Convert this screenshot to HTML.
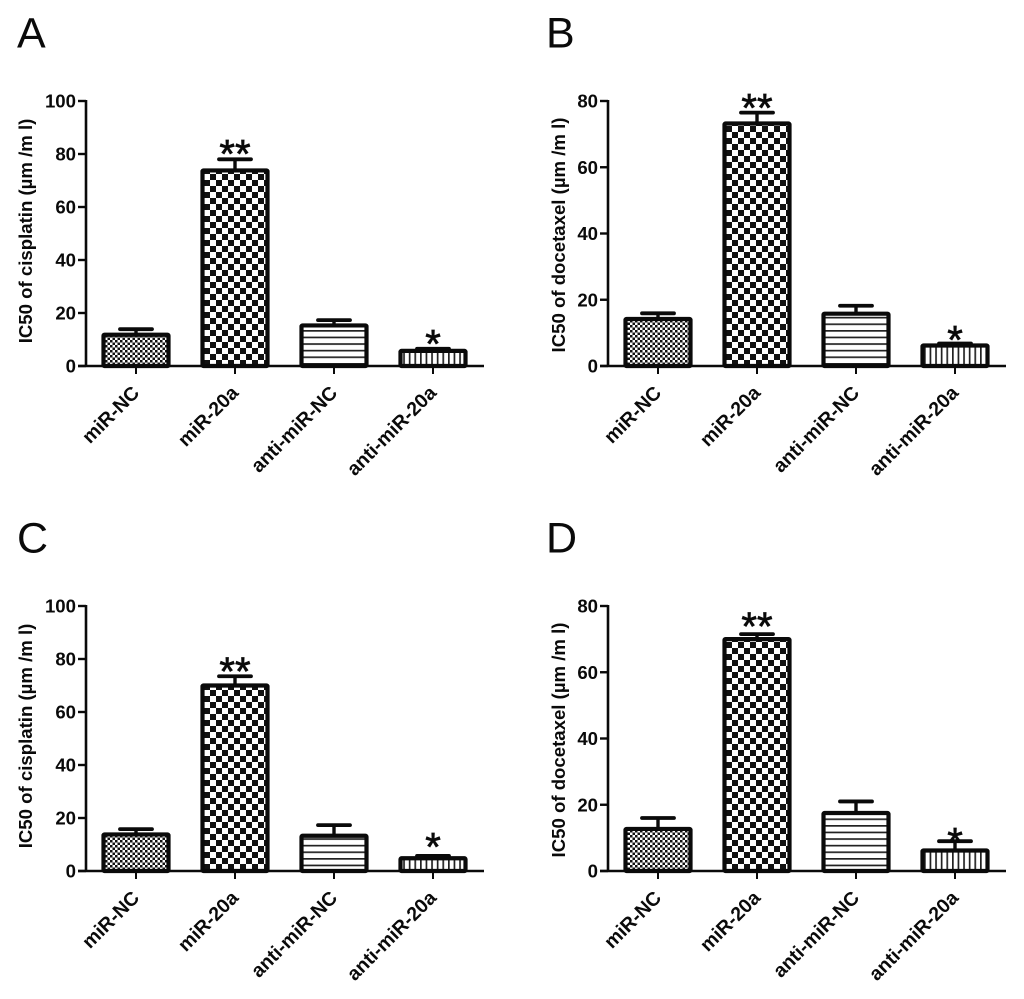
<!DOCTYPE html>
<html>
<head>
<meta charset="utf-8">
<style>
html,body{margin:0;padding:0;background:#fff;}
svg{display:block;filter:blur(0.35px);}
text{font-family:"Liberation Sans",sans-serif;fill:#0a0a0a;}
.tick{font-weight:bold;font-size:18.6px;}
.cat{font-weight:bold;font-size:19.5px;}
.ttl{font-weight:bold;font-size:18.6px;}
.letter{font-size:43px;}
.star{font-size:40px;stroke:#0a0a0a;stroke-width:0.7px;}
</style>
</head>
<body>
<svg id="chart" width="1024" height="999" viewBox="0 0 1024 999" xmlns="http://www.w3.org/2000/svg">
<defs>
<pattern id="p-small" width="5" height="5" patternUnits="userSpaceOnUse"><rect width="5" height="5" fill="#fff"/><rect width="2.5" height="2.5" fill="#111"/><rect x="2.5" y="2.5" width="2.5" height="2.5" fill="#111"/></pattern>
<pattern id="p-big" width="12" height="12" patternUnits="userSpaceOnUse"><rect width="12" height="12" fill="#fff"/><rect width="6" height="6" fill="#111"/><rect x="6" y="6" width="6" height="6" fill="#111"/></pattern>
<pattern id="p-h" width="6.6" height="6.6" patternUnits="userSpaceOnUse"><rect width="6.6" height="6.6" fill="#fff"/><rect width="6.6" height="1.7" fill="#222"/></pattern>
<pattern id="p-v" width="5.6" height="5.6" patternUnits="userSpaceOnUse"><rect width="5.6" height="5.6" fill="#fff"/><rect width="1.7" height="5.6" fill="#222"/></pattern>
</defs>
</svg>
<script>
var categories = ['miR-NC', 'miR-20a', 'anti-miR-NC', 'anti-miR-20a'];
var fills = ['p-small', 'p-big', 'p-h', 'p-v'];
var significance = ['', '**', '', '*'];

var valuesA = [11.8, 73.8, 15.3, 5.7];
var errorsA = [2.1, 4.2, 2, 0.8];
var starLevelsA = [0, 82.6, 0, 10.9];

var valuesB = [14.2, 73.2, 15.8, 6.2];
var errorsB = [1.7, 3.3, 2.4, 0.6];
var starLevelsB = [0, 80, 0, 10];

var valuesC = [13.8, 70, 13.3, 4.8];
var errorsC = [2, 3.5, 4, 0.9];
var starLevelsC = [0, 78, 0, 11.7];

var valuesD = [12.7, 70, 17.5, 6.2];
var errorsD = [3.3, 1.5, 3.5, 2.8];
var starLevelsD = [0, 76, 0, 10.8];

var ticksCis = [0, 20, 40, 60, 80, 100];
var ticksDoc = [0, 20, 40, 60, 80];

var titleCis = 'IC50 of cisplatin (\u00b5m /m l)';
var titleDoc = 'IC50 of docetaxel (\u00b5m /m l)';

var svg = document.getElementById('chart');
var NS = 'http://www.w3.org/2000/svg';

function make(tag, attrs, parent, text) {
  var el = document.createElementNS(NS, tag);
  for (var k in attrs) { el.setAttribute(k, attrs[k]); }
  if (text !== undefined) { el.textContent = text; }
  parent.appendChild(el);
  return el;
}

function panel(cfg) {
  var g = make('g', {}, svg);
  
  

  var yScale = function (v) { return cfg.y0 - (v / cfg.max) * (cfg.y0 - cfg.yTop); };
  var xScale = function (i) { return cfg.x0 + 50 + i * 99; };

  var letter = make('text', {x: cfg.letterX, y: cfg.y0 - 318.5, 'class': 'letter'}, g, cfg.letter);
  
  

  var title = make('text', {'class': 'ttl', 'text-anchor': 'middle', transform: 'translate(' + cfg.titleX + ',' + (cfg.y0 - cfg.titleUp) + ') rotate(-90)'}, g, cfg.title);
  
  

  cfg.values.forEach(function (v, i) {
    var cx = xScale(i);
    var top = yScale(v);
    var errTop = yScale(v + cfg.errors[i]);

    var stem = make('line', {x1: cx, x2: cx, y1: top, y2: errTop, stroke: '#0a0a0a', 'stroke-width': 3.4}, g);
    
    

    var cap = make('line', {x1: cx - 16, x2: cx + 16, y1: errTop, y2: errTop, stroke: '#0a0a0a', 'stroke-width': 3.8, 'stroke-linecap': 'round'}, g);
    
    

    var bar = make('rect', {x: cx - 32.5, y: top, width: 65, height: cfg.y0 - top, fill: 'url(#' + fills[i] + ')', stroke: '#0a0a0a', 'stroke-width': 4.2, rx: 1}, g);
    
    

    var tk = make('line', {x1: cx, x2: cx, y1: cfg.y0, y2: cfg.y0 + 8, stroke: '#0a0a0a', 'stroke-width': 2}, g);
    
    

    var lab = make('text', {'class': 'cat', 'text-anchor': 'end', transform: 'translate(' + (cx + 4.5) + ',' + (cfg.y0 + 28) + ') rotate(-45)'}, g, categories[i]);
    
    

    if (significance[i]) {
      var st = make('text', {'class': 'star', 'text-anchor': 'middle', x: cx, y: yScale(cfg.stars[i]) + 20.5}, g, significance[i]);
      
      
    }
  });

  var yAxis = make('line', {x1: cfg.x0, x2: cfg.x0, y1: cfg.yTop - 1, y2: cfg.y0 + 1, stroke: '#0a0a0a', 'stroke-width': 2.6}, g);
  
  

  var xAxis = make('line', {x1: cfg.x0 - 8, x2: cfg.x0 + 398, y1: cfg.y0, y2: cfg.y0, stroke: '#0a0a0a', 'stroke-width': 2.6}, g);
  
  

  cfg.ticks.forEach(function (t) {
    var y = yScale(t);
    var tl = make('line', {x1: cfg.x0 - 8, x2: cfg.x0, y1: y, y2: y, stroke: '#0a0a0a', 'stroke-width': 2.4}, g);
    
    

    var tt = make('text', {'class': 'tick', 'text-anchor': 'end', x: cfg.x0 - 10, y: y + 6.5}, g, String(t));
    
    
  });
}

panel({letter: 'A', letterX: 17, titleX: 32, titleUp: 135, x0: 86, y0: 366, yTop: 101, max: 100, ticks: ticksCis, values: valuesA, errors: errorsA, stars: starLevelsA, title: titleCis});
panel({letter: 'B', letterX: 546, titleX: 565, titleUp: 131, x0: 608, y0: 366, yTop: 101, max: 80, ticks: ticksDoc, values: valuesB, errors: errorsB, stars: starLevelsB, title: titleDoc});
panel({letter: 'C', letterX: 17, titleX: 32, titleUp: 135, x0: 86, y0: 871, yTop: 606, max: 100, ticks: ticksCis, values: valuesC, errors: errorsC, stars: starLevelsC, title: titleCis});
panel({letter: 'D', letterX: 546, titleX: 565, titleUp: 131, x0: 608, y0: 871, yTop: 606, max: 80, ticks: ticksDoc, values: valuesD, errors: errorsD, stars: starLevelsD, title: titleDoc});
</script>
</body>
</html>
